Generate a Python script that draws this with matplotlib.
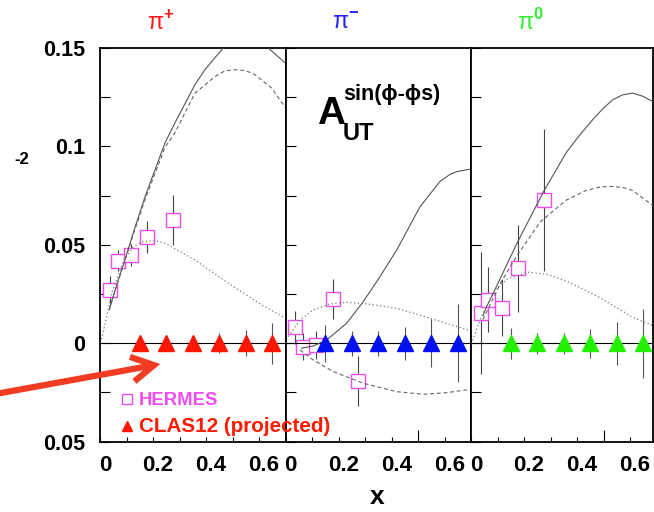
import numpy as np
import matplotlib
matplotlib.use("Agg")
import matplotlib.pyplot as plt
from matplotlib.lines import Line2D
from matplotlib.patches import FancyArrowPatch
from matplotlib.transforms import ScaledTranslation

plt.rcParams['font.family'] = ['Liberation Sans', 'DejaVu Sans']
plt.rcParams['mathtext.fontset'] = 'custom'
plt.rcParams['mathtext.rm'] = 'Liberation Sans'
plt.rcParams['mathtext.bf'] = 'Liberation Sans:bold'

W, H = 654, 512

# projected CLAS12 x-bins (same binning for all pions, plotted at A=0)
clas_x = [0.15, 0.25, 0.35, 0.45, 0.55, 0.65]
clas_y = [0.0, 0.0, 0.0, 0.0, 0.0, 0.0]
clas_err_pip = [0.004, 0.004, 0.004, 0.005, 0.0066, 0.0103]
clas_err_pim = [0.0093, 0.0063, 0.0063, 0.0083, 0.0122, 0.0197]
clas_err_pi0 = [0.0079, 0.0054, 0.0054, 0.0075, 0.0108, 0.0175]

# HERMES points
herm_x_pip = [0.038, 0.069, 0.116, 0.179, 0.277]
herm_y_pip = [0.0271, 0.042, 0.0449, 0.0539, 0.0627]
herm_e_pip = [0.007, 0.0054, 0.0055, 0.008, 0.0127]

herm_x_pim = [0.035, 0.066, 0.114, 0.177, 0.274]
herm_y_pim = [0.0081, -0.0017, -0.0009, 0.0224, -0.0192]
herm_e_pim = [0.0085, 0.007, 0.007, 0.0102, 0.0125]

herm_x_pi0 = [0.038, 0.065, 0.116, 0.179, 0.274]
herm_y_pi0 = [0.0153, 0.022, 0.0181, 0.0381, 0.0729]
herm_e_pi0 = [0.031, 0.0165, 0.0144, 0.022, 0.036]

# model curves: solid, dashed, dotted
pip_solid_x = [0.035, 0.057, 0.094, 0.13, 0.17, 0.245, 0.283, 0.358, 0.396, 0.465, 0.51, 0.55, 0.59, 0.635, 0.70]
pip_solid_y = [0.017, 0.027, 0.0424, 0.058, 0.0745, 0.1017, 0.112, 0.1313, 0.139, 0.150, 0.1555, 0.157, 0.1545, 0.150, 0.1423]
pip_dash_x = [0.035, 0.057, 0.094, 0.13, 0.17, 0.245, 0.283, 0.358, 0.434, 0.47, 0.509, 0.55, 0.585, 0.648, 0.70]
pip_dash_y = [0.017, 0.027, 0.042, 0.057, 0.073, 0.0995, 0.107, 0.127, 0.1355, 0.1383, 0.139, 0.1385, 0.1364, 0.1296, 0.1195]
pip_dot_x = [0.006, 0.025, 0.045, 0.09, 0.126, 0.16, 0.2, 0.24, 0.27, 0.358, 0.484, 0.61, 0.70]
pip_dot_y = [0.002, 0.0135, 0.026, 0.042, 0.049, 0.0515, 0.0522, 0.0512, 0.049, 0.0423, 0.0305, 0.0195, 0.0127]

pim_solid_x = [0.06, 0.104, 0.155, 0.23, 0.293, 0.356, 0.419, 0.507, 0.582, 0.62, 0.645, 0.698]
pim_solid_y = [-0.0025, -0.0014, 0.0017, 0.0102, 0.0212, 0.0339, 0.0474, 0.0694, 0.0822, 0.0858, 0.0872, 0.0885]
pim_dash_x = [0.054, 0.104, 0.18, 0.293, 0.419, 0.519, 0.607, 0.696]
pim_dash_y = [-0.0034, -0.0085, -0.0144, -0.0203, -0.0246, -0.0259, -0.0251, -0.0234]
pim_dot_x = [0.01, 0.054, 0.104, 0.167, 0.23, 0.306, 0.419, 0.545, 0.696]
pim_dot_y = [0.0034, 0.0118, 0.0169, 0.020, 0.0208, 0.020, 0.0178, 0.0127, 0.0064]

pi0_solid_x = [0.045, 0.057, 0.1, 0.176, 0.274, 0.358, 0.409, 0.459, 0.497, 0.535, 0.572, 0.61, 0.648, 0.686]
pi0_solid_y = [0.014, 0.018, 0.030, 0.0515, 0.0771, 0.0966, 0.1056, 0.1135, 0.1191, 0.1237, 0.1262, 0.1271, 0.1255, 0.1228]
pi0_dash_x = [0.045, 0.07, 0.113, 0.176, 0.26, 0.358, 0.434, 0.484, 0.522, 0.572, 0.61, 0.686]
pi0_dash_y = [0.012, 0.019, 0.031, 0.045, 0.0615, 0.0726, 0.0776, 0.0793, 0.0797, 0.0792, 0.0776, 0.070]
pi0_dot_x = [0.006, 0.038, 0.088, 0.138, 0.214, 0.29, 0.37, 0.484, 0.61, 0.686]
pi0_dot_y = [0.0014, 0.0132, 0.0268, 0.0327, 0.0361, 0.035, 0.031, 0.0234, 0.0132, 0.009]

y_ticks = [-0.05, 0.0, 0.05, 0.1, 0.15]
y_tick_labels = ['0.05', '0', '0.05', '0.1', '0.15']
x_ticks = [0.0, 0.2, 0.4, 0.6]
x_tick_labels = ['0', '0.2', '0.4', '0.6']

HERMES_COL = '#ee4cee'
panels = [
    dict(name='+', col='#ff1a1a', tri='#ff1500', left=100, right=285.7,
         hx=herm_x_pip, hy=herm_y_pip, he=herm_e_pip, ce=clas_err_pip,
         curves=[(pip_solid_x, pip_solid_y), (pip_dash_x, pip_dash_y), (pip_dot_x, pip_dot_y)]),
    dict(name='-', col='#2222ff', tri='#0010f0', left=285.7, right=470.7,
         hx=herm_x_pim, hy=herm_y_pim, he=herm_e_pim, ce=clas_err_pim,
         curves=[(pim_solid_x, pim_solid_y), (pim_dash_x, pim_dash_y), (pim_dot_x, pim_dot_y)]),
    dict(name='0', col='#30ee30', tri='#22f000', left=471, right=653,
         hx=herm_x_pi0, hy=herm_y_pi0, he=herm_e_pi0, ce=clas_err_pi0,
         curves=[(pi0_solid_x, pi0_solid_y), (pi0_dash_x, pi0_dash_y), (pi0_dot_x, pi0_dot_y)]),
]

TOP, BOTTOM = 48, 441.7
PX_PER_X = 265.0

fig = plt.figure(figsize=(W / 100, H / 100), dpi=100)


def fx(px):
    return px / W


def fy(py):
    return 1 - py / H


curve_styles = [
    dict(color='#555555', lw=0.8, ls='-'),
    dict(color='#666666', lw=0.8, ls=(0, (3.5, 2.5))),
    dict(color='#7a7a7a', lw=0.9, ls=(0, (1, 2))),
]

for i, p in enumerate(panels):
    ax = fig.add_axes([fx(p['left']), fy(BOTTOM), fx(p['right'] - p['left']), (BOTTOM - TOP) / H])
    ax.set_xlim(0, (p['right'] - p['left']) / PX_PER_X)
    ax.set_ylim(-0.05, 0.15)
    for s in ax.spines.values():
        s.set_linewidth(1.3)
        s.set_color('black')

    ax.axhline(0, color='black', lw=0.8, zorder=3.5)

    # HERMES: bars, open squares, then the model curves over them
    ax.errorbar(p['hx'], p['hy'], yerr=p['he'], fmt='none', ecolor='#444444', elinewidth=0.8, zorder=2)
    ax.plot(p['hx'], p['hy'], 's', ms=9.6, mfc='white', mec=HERMES_COL, mew=1.0, zorder=3)
    for (cx, cy), st in zip(p['curves'], curve_styles):
        ax.plot(cx, cy, zorder=4, **st)

    # CLAS12 projections
    ax.errorbar(clas_x, clas_y, yerr=p['ce'], fmt='none', ecolor='#555555', elinewidth=0.8, zorder=4.5)
    ax.plot(clas_x, clas_y, '^', ms=11, color=p['tri'], mec=p['tri'], zorder=5)

    ax.set_yticks(y_ticks)
    ax.set_yticks(np.arange(-0.05, 0.151, 0.025), minor=True)
    ax.tick_params(axis='y', which='both', direction='in', length=7.2, width=0.8,
                   left=True, right=False, pad=10.5)
    ax.set_xticks(x_ticks)
    ax.set_xticks([0.1, 0.3, 0.5], minor=True)
    ax.tick_params(axis='x', which='both', direction='in', length=3.6, width=0.8,
                   bottom=True, top=False, pad=9.5)
    ax.set_xticklabels(x_tick_labels, fontsize=16, fontweight='bold')
    for lab in ax.get_xticklabels():
        lab.set_transform(lab.get_transform() + ScaledTranslation(0.05, 0, fig.dpi_scale_trans))
    if i == 0:
        ax.set_yticklabels(y_tick_labels, fontsize=15.5, fontweight='bold')
    else:
        ax.set_yticklabels([])
        ax.xaxis.get_minor_ticks()[2].tick1line.set_markersize(8.5)

    # pion label above the panel
    lx = {0: 147, 1: 332, 2: 517}[i]
    fig.text(fx(lx), fy(29.5), 'π$^{\\mathbf{' + p['name'] + '}}$', fontsize=17,
             color=p['col'], ha='left', va='baseline')

# asymmetry label
fig.text(fx(317), fy(123.5), 'A', fontsize=28, fontweight='bold', ha='left', va='baseline')
fig.text(fx(343), fy(100), 'sin(ϕ-ϕs)', fontsize=15.5, fontweight='bold', ha='left', va='baseline')
fig.text(fx(343), fy(140), 'UT', fontsize=17, fontweight='bold', ha='left', va='baseline')

fig.text(fx(22), fy(159), '-2', fontsize=12, fontweight='bold', ha='center', va='center')
fig.text(fx(377), fy(497), 'x', fontsize=19, fontweight='bold', ha='center', va='center')

# legend in the first panel
handles = [
    Line2D([], [], marker='s', ls='none', ms=6.5, mfc='white', mec=HERMES_COL, mew=1.0),
    Line2D([], [], marker='^', ls='none', ms=7, color='#ff1500'),
]
leg = fig.legend(handles, ['HERMES', 'CLAS12 (projected)'], loc='upper left',
                 bbox_to_anchor=(fx(121), fy(392)), frameon=False, borderpad=0,
                 borderaxespad=0, handlelength=0.6, handletextpad=0.35, labelspacing=0.45,
                 prop={'size': 13.3, 'weight': 'bold'}, labelcolor=[HERMES_COL, '#ff1a00'])
leg.get_texts()[1].set_fontsize(14.9)

# pointer arrow
fig.patches.append(FancyArrowPatch(
    (fx(-10), fy(395)), (fx(163), fy(363.5)), transform=fig.transFigure,
    arrowstyle='->, head_length=0.8, head_width=0.45', mutation_scale=20,
    color='#ef3c22', lw=4.5, capstyle='butt', joinstyle='miter'))

fig.savefig('out.png', dpi=100)
